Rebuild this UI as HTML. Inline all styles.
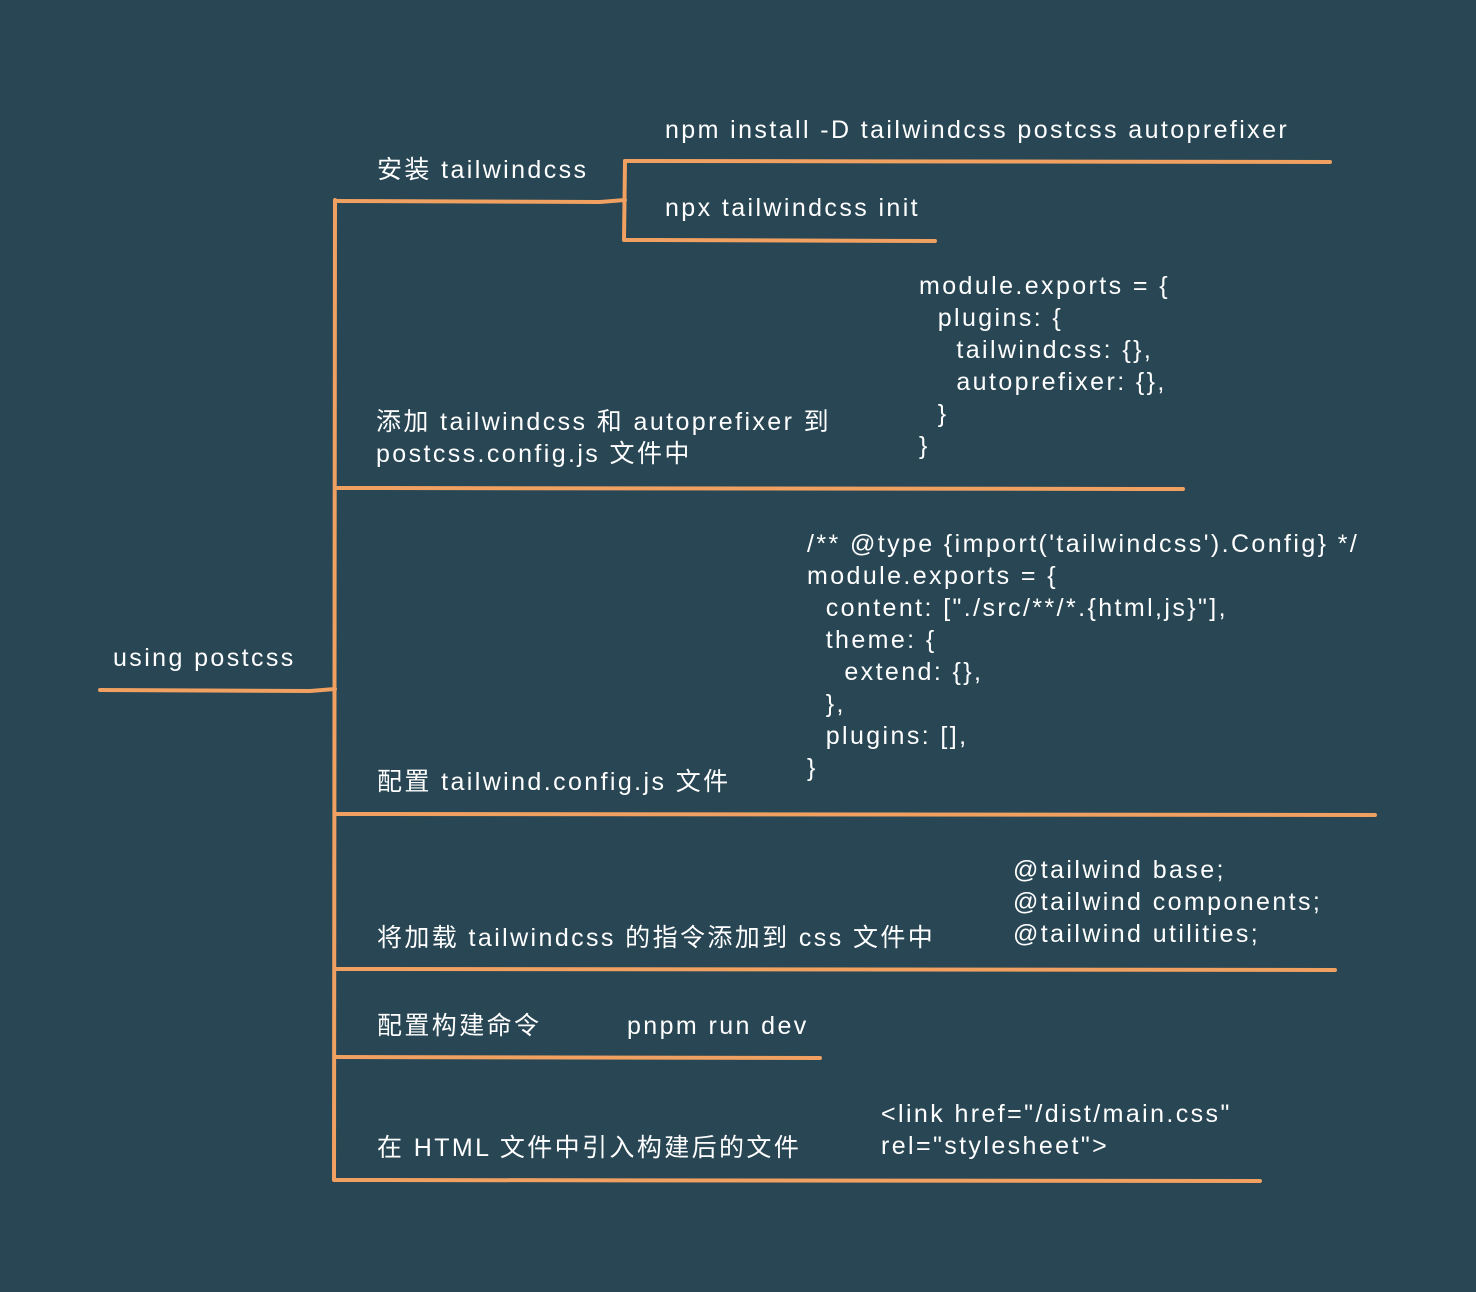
<!DOCTYPE html>
<html><head><meta charset="utf-8"><style>
html,body{margin:0;padding:0;background:#284654;}
#c{position:relative;width:1476px;height:1292px;background:#284654;overflow:hidden;font-family:"Liberation Sans","Noto Sans CJK SC",sans-serif;color:#fff;font-size:25px;letter-spacing:2.4px;}
.t{position:absolute;line-height:32px;white-space:pre;}
svg{position:absolute;left:0;top:0;}
</style></head><body><div id="c">
<svg width="1476" height="1292"><g stroke="#f0a060" stroke-width="4" fill="none" stroke-linecap="round">
<path d="M100 690 L310 691 L335 689"/>
<path d="M335 200 L334 1180"/>
<path d="M335 201 L600 202 L625 200"/>
<path d="M625 161 L624 240"/>
<path d="M625 161 L652 161 L1330 162"/>
<path d="M625 240 L652 240 L935 241"/>
<path d="M335 488 L1183 489"/>
<path d="M335 814 L1375 815"/>
<path d="M335 969 L1335 970"/>
<path d="M335 1057 L820 1058"/>
<path d="M335 1180 L1260 1181"/>
</g></svg>
<div class="t" style="left:113px;top:642px">using postcss</div>
<div class="t" style="left:377px;top:154px">安装 tailwindcss</div>
<div class="t" style="left:665px;top:114px">npm install -D tailwindcss postcss autoprefixer</div>
<div class="t" style="left:665px;top:192px">npx tailwindcss init</div>
<div class="t" style="left:376px;top:406px">添加 tailwindcss 和 autoprefixer 到
postcss.config.js 文件中</div>
<div class="t" style="left:919px;top:270px">module.exports = {
  plugins: {
    tailwindcss: {},
    autoprefixer: {},
  }
}</div>
<div class="t" style="left:377px;top:766px">配置 tailwind.config.js 文件</div>
<div class="t" style="left:807px;top:528px">/** @type {import('tailwindcss').Config} */
module.exports = {
  content: ["./src/**/*.{html,js}"],
  theme: {
    extend: {},
  },
  plugins: [],
}</div>
<div class="t" style="left:377px;top:922px">将加载 tailwindcss 的指令添加到 css 文件中</div>
<div class="t" style="left:1013px;top:854px">@tailwind base;
@tailwind components;
@tailwind utilities;</div>
<div class="t" style="left:377px;top:1010px">配置构建命令</div>
<div class="t" style="left:627px;top:1010px">pnpm run dev</div>
<div class="t" style="left:377px;top:1132px">在 HTML 文件中引入构建后的文件</div>
<div class="t" style="left:881px;top:1098px">&lt;link href="/dist/main.css"
rel="stylesheet"&gt;</div>
</div></body></html>
